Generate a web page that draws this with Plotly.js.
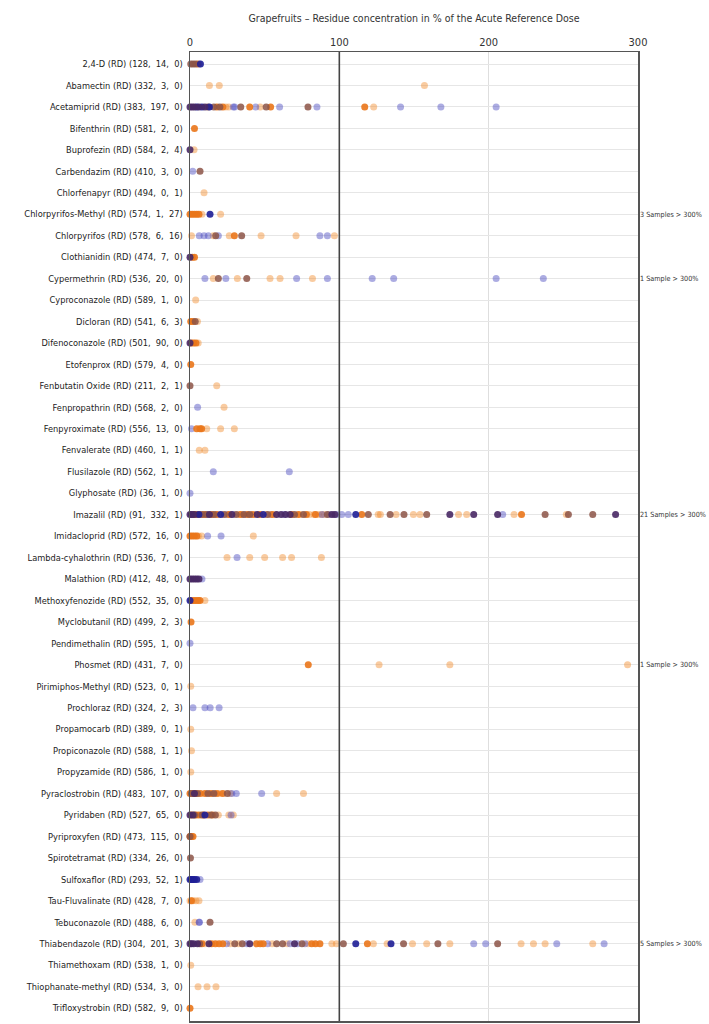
<!DOCTYPE html>
<html>
<head>
<meta charset="utf-8">
<script src="https://cdn.plot.ly/plotly-3.0.1.min.js"></script>
<style>html,body{margin:0;padding:0;background:#fff;}#chart{width:709px;height:1024px;}</style>
</head>
<body>
<div id="chart"></div>
<script>
const labels = [
  "2,4-D (RD) (128,  14,  0)",
  "Abamectin (RD) (332,  3,  0)",
  "Acetamiprid (RD) (383,  197,  0)",
  "Bifenthrin (RD) (581,  2,  0)",
  "Buprofezin (RD) (584,  2,  4)",
  "Carbendazim (RD) (410,  3,  0)",
  "Chlorfenapyr (RD) (494,  0,  1)",
  "Chlorpyrifos-Methyl (RD) (574,  1,  27)",
  "Chlorpyrifos (RD) (578,  6,  16)",
  "Clothianidin (RD) (474,  7,  0)",
  "Cypermethrin (RD) (536,  20,  0)",
  "Cyproconazole (RD) (589,  1,  0)",
  "Dicloran (RD) (541,  6,  3)",
  "Difenoconazole (RD) (501,  90,  0)",
  "Etofenprox (RD) (579,  4,  0)",
  "Fenbutatin Oxide (RD) (211,  2,  1)",
  "Fenpropathrin (RD) (568,  2,  0)",
  "Fenpyroximate (RD) (556,  13,  0)",
  "Fenvalerate (RD) (460,  1,  1)",
  "Flusilazole (RD) (562,  1,  1)",
  "Glyphosate (RD) (36,  1,  0)",
  "Imazalil (RD) (91,  332,  1)",
  "Imidacloprid (RD) (572,  16,  0)",
  "Lambda-cyhalothrin (RD) (536,  7,  0)",
  "Malathion (RD) (412,  48,  0)",
  "Methoxyfenozide (RD) (552,  35,  0)",
  "Myclobutanil (RD) (499,  2,  3)",
  "Pendimethalin (RD) (595,  1,  0)",
  "Phosmet (RD) (431,  7,  0)",
  "Pirimiphos-Methyl (RD) (523,  0,  1)",
  "Prochloraz (RD) (324,  2,  3)",
  "Propamocarb (RD) (389,  0,  1)",
  "Propiconazole (RD) (588,  1,  1)",
  "Propyzamide (RD) (586,  1,  0)",
  "Pyraclostrobin (RD) (483,  107,  0)",
  "Pyridaben (RD) (527,  65,  0)",
  "Pyriproxyfen (RD) (473,  115,  0)",
  "Spirotetramat (RD) (334,  26,  0)",
  "Sulfoxaflor (RD) (293,  52,  1)",
  "Tau-Fluvalinate (RD) (428,  7,  0)",
  "Tebuconazole (RD) (488,  6,  0)",
  "Thiabendazole (RD) (304,  201,  3)",
  "Thiamethoxam (RD) (538,  1,  0)",
  "Thiophanate-methyl (RD) (534,  3,  0)",
  "Trifloxystrobin (RD) (582,  9,  0)"
];

// values (% of ARfD) per row, one list per dot colour
const paleOrange = [
  [], [13, 19.6, 157], [24, 26, 47, 123], [], [2.7], [], [9.4], [8, 20.5],
  [1, 15.6, 26.3, 47.6, 71, 96.7], [], [15.6, 31.7, 53.6, 60.3, 82], [3.8], [5], [5.5], [], [17.9], [22.8],
  [11.2, 20.5, 29.7], [6.2, 10], [], [],
  [7, 21, 33, 51, 57, 74, 80, 83, 86, 88, 90, 126, 127.5, 138, 149.6, 154, 179.8, 185.3, 217, 252],
  [5.6, 7.8, 42.4], [24.8, 40, 50, 62, 68, 88], [], [10], [], [], [126.6, 174, 293], [0.5], [], [0.5], [1], [0.5],
  [20, 27, 58, 76], [19, 26, 29], [], [], [], [0, 2, 4, 6], [3.3],
  [10, 27, 32.5, 55, 65, 79, 95, 98, 122.8, 132, 149, 158.5, 174, 221.7, 230, 237.8, 269.7],
  [0.5], [5.4, 11.4, 17.4], []
];
const lightBlue = [
  [6], [], [29, 30, 44, 60, 85, 141, 168, 205], [], [], [1.8], [], [],
  [6.2, 9.4, 12.3, 19, 87, 92], [], [10, 24, 71.4, 92, 122, 136.4, 205, 236.6], [], [], [], [], [], [5.1],
  [1], [], [15.6, 66.5], [0],
  [12, 17.5, 25, 29, 37, 44, 54, 63, 88.5, 93, 98.2, 101.6, 106, 209.4],
  [11.8, 20.8], [31.5], [8], [], [], [0], [], [], [2, 10, 13.5, 19.5], [], [], [],
  [28, 31, 48], [27.5], [], [], [6.7], [], [6.2, 6.2],
  [24.5, 38, 52, 67, 72, 77, 190, 198, 245.6, 277.3],
  [], [], []
];
const orange = [
  [5], [], [18, 22, 40, 54, 117], [3], [], [], [], [0, 1.5, 3, 4.5, 6],
  [29.7], [1.5, 3], [], [], [0.5, 2], [1, 2.5, 4], [0.5], [], [],
  [4.5, 6.7, 7.8], [], [], [],
  [3, 5.5, 9.5, 14.5, 18, 26, 34, 38.5, 42, 47, 55, 68, 72.5, 78, 84, 115, 222],
  [0, 1.5, 3, 4.5], [], [], [1, 2.5, 4, 5.5, 6.7], [0.7], [], [79.2], [], [], [], [], [],
  [0, 2, 4, 7, 10, 14, 18, 22], [1, 4, 6, 9, 12, 15], [0, 1, 2], [], [], [1], [],
  [8, 14.5, 17, 19.5, 22, 44.6, 47, 49, 81.5, 84, 87, 118.8],
  [], [], [0]
];
const navy = [
  [7], [], [4.5, 8, 13], [], [], [], [], [13.4],
  [], [], [], [], [], [], [], [], [],
  [], [], [], [],
  [6, 20.5, 49, 111],
  [], [], [], [0], [], [], [], [], [], [], [], [],
  [], [10], [], [], [0, 1, 2, 3, 4.5], [], [],
  [111, 134.6],
  [], [], []
];
const brown = [
  [0.5, 2, 3.5], [], [12, 16, 20, 34, 51, 79], [], [], [6.7], [], [],
  [17.2, 34.6], [], [19, 38], [], [3.5], [], [], [0], [],
  [], [], [], [],
  [4, 8, 11, 16, 23, 31, 36, 40, 52, 70, 76, 92, 119.4, 134, 143.3, 158.5, 237.8, 253.4, 269.7],
  [], [], [], [], [], [], [], [], [], [], [], [],
  [1, 5, 12, 16, 25], [3, 8, 14, 17], [0], [0.3], [], [], [13.4],
  [6.5, 30, 35, 58, 62, 75, 102.7, 143, 166, 206],
  [], [], []
];
const darkPurple = [
  [], [], [0, 1.5, 3, 6, 10], [], [0], [], [], [],
  [], [0], [], [], [], [0], [], [], [],
  [], [], [], [],
  [0, 1, 2.5, 13, 28, 45, 58, 61, 64, 67, 95, 97, 174, 190, 206, 285],
  [], [], [0, 1.5, 3, 4.5, 6], [], [], [], [], [], [], [], [], [],
  [3], [0, 2], [], [], [], [], [],
  [0, 1, 2.5, 5, 12.7, 40, 70],
  [], [], []
];

const overLimit = [
  ["Chlorpyrifos-Methyl (RD) (574,  1,  27)", "3 Samples > 300%"],
  ["Cypermethrin (RD) (536,  20,  0)", "1 Sample > 300%"],
  ["Imazalil (RD) (91,  332,  1)", "21 Samples > 300%"],
  ["Phosmet (RD) (431,  7,  0)", "1 Sample > 300%"],
  ["Thiabendazole (RD) (304,  201,  3)", "5 Samples > 300%"]
];

const xTicks = [0, 100, 200, 300];
const limitValue = 100;

function flatten(series) {
  const xs = [], ys = [];
  series.forEach((vals, i) => vals.forEach(v => { xs.push(v); ys.push(labels[i]); }));
  return {x: xs, y: ys};
}

const styles = [
  [paleOrange, 'rgba(242,140,45,0.45)'],
  [lightBlue, 'rgba(70,70,190,0.45)'],
  [orange, 'rgba(234,118,26,0.9)'],
  [brown, 'rgba(140,84,70,0.85)'],
  [navy, 'rgba(30,30,150,0.9)'],
  [darkPurple, 'rgba(72,40,100,0.9)']
];

const TFONT = 'DejaVu Sans Condensed, DejaVu Sans, sans-serif';

const traces = styles.map(([s, c]) => {
  const d = flatten(s);
  return {
    type: 'scatter', mode: 'markers', x: d.x, y: d.y,
    marker: {color: c, size: 7, line: {width: 0}},
    hoverinfo: 'x+y', showlegend: false, cliponaxis: false
  };
});

const layout = {
  width: 709, height: 1024,
  margin: {l: 190, r: 71, t: 52, b: 3},
  paper_bgcolor: '#fff', plot_bgcolor: '#fff',
  font: {family: TFONT, size: 10, color: '#333'},
  title: {text: 'Grapefruits \u2013 Residue concentration in % of the Acute Reference Dose',
    font: {family: TFONT, size: 10.5, color: '#333'},
    x: 0.5, xref: 'paper', y: 1 - 18/1024, yref: 'container', yanchor: 'middle'},
  xaxis: {
    side: 'top', range: [0, 300], tickvals: xTicks, ticktext: xTicks.map(String),
    showgrid: true, gridcolor: '#dedede', gridwidth: 1,
    showline: true, linecolor: '#555', linewidth: 1.5, mirror: true,
    zeroline: false, ticks: '', tickfont: {family: TFONT, size: 11, color: '#333'}
  },
  yaxis: {
    type: 'category', categoryorder: 'array', categoryarray: labels,
    tickvals: labels, range: [44.6, -0.56],
    showgrid: true, gridcolor: '#e6e6e6', gridwidth: 1,
    showline: true, linecolor: '#555', linewidth: 1.5, mirror: true,
    zeroline: false, ticks: 'outside', ticklen: 4, tickcolor: 'rgba(0,0,0,0)',
    tickfont: {family: TFONT, size: 9.2, color: '#222'}
  },
  shapes: [{type: 'line', xref: 'x', yref: 'paper', x0: limitValue, x1: limitValue, y0: 0, y1: 1,
    line: {color: '#444', width: 1.6}}],
  annotations: overLimit.map(([lab, txt]) => ({
    x: 1, xref: 'paper', y: lab, yref: 'y', text: txt, showarrow: false,
    xanchor: 'left', xshift: 0, font: {family: TFONT, size: 7.2, color: '#333'}
  }))
};

Plotly.newPlot('chart', traces, layout, {displayModeBar: false, staticPlot: true});
</script>
</body>
</html>
